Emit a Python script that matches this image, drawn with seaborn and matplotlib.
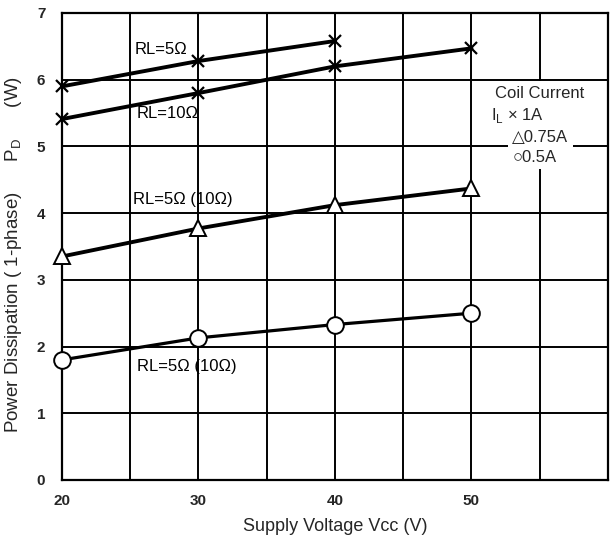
import matplotlib
matplotlib.use("Agg")
import matplotlib.pyplot as plt
import seaborn as sns
import pandas as pd

# Data
vcc_a = [20, 30, 40]
pd_1a_5ohm = [5.9, 6.28, 6.58]
vcc_b = [20, 30, 40, 50]
pd_1a_10ohm = [5.41, 5.8, 6.2, 6.47]
pd_075a = [3.35, 3.77, 4.12, 4.37]
pd_05a = [1.8, 2.13, 2.33, 2.5]

x_ticks = [20, 30, 40, 50]
y_ticks = [0, 1, 2, 3, 4, 5, 6, 7]

sns.set_theme(style="white")
plt.rcParams['font.family'] = ['Liberation Sans', 'DejaVu Sans']
plt.rcParams['mathtext.fontset'] = 'custom'
plt.rcParams['mathtext.rm'] = 'Liberation Sans'

fig = plt.figure(figsize=(6.1, 5.39), dpi=100)
ax = fig.add_axes([0.1016, 0.1095, 0.8951, 0.8664])

# grid
for gx in range(20, 61, 5):
    ax.axvline(gx, color='black', lw=1.4, zorder=1)
for gy in range(0, 8):
    ax.axhline(gy, color='black', lw=1.4, zorder=1)

df1 = pd.DataFrame({'V': vcc_a, 'P': pd_1a_5ohm})
df2 = pd.DataFrame({'V': vcc_b, 'P': pd_1a_10ohm})
df3 = pd.DataFrame({'V': vcc_b, 'P': pd_075a})
df4 = pd.DataFrame({'V': vcc_b, 'P': pd_05a})

common = dict(x='V', y='P', ax=ax, color='black', zorder=3, clip_on=False)
sns.lineplot(data=df1, marker='x', markersize=8, markeredgewidth=1.6,
             markeredgecolor='black', lw=2.8, **common)
sns.lineplot(data=df2, marker='x', markersize=8, markeredgewidth=1.6,
             markeredgecolor='black', lw=2.8, **common)
sns.lineplot(data=df3, marker='^', markersize=12, markerfacecolor='white',
             markeredgecolor='black', markeredgewidth=1.4, lw=2.8, **common)
sns.lineplot(data=df4, marker='o', markersize=12, markerfacecolor='white',
             markeredgecolor='black', markeredgewidth=1.4, lw=2.3, **common)

ax.set_xlim(20, 60)
ax.set_ylim(0, 7)
ax.set_xticks(x_ticks)
ax.set_yticks(y_ticks)
ax.tick_params(axis='both', length=0, labelsize=11)
ax.tick_params(axis='y', pad=12)
ax.tick_params(axis='x', pad=10)
for lab in ax.get_xticklabels() + ax.get_yticklabels():
    lab.set_fontweight('bold')

for s in ax.spines.values():
    s.set_color('black')
    s.set_linewidth(1.6)

ax.set_xlabel('Supply Voltage Vcc (V)', fontsize=13, labelpad=7)
ax.set_ylabel(r'Power Dissipation ( 1-phase)      P$_{\mathregular{D}}$      (W)',
              fontsize=13.5)
ax.yaxis.set_label_coords(-0.07, 0.482)

tk = dict(fontsize=12, color='black', zorder=5)
ax.text(25.3, 6.46, 'RL=5Ω', ha='left', va='center', **tk)
ax.text(25.5, 5.5, 'RL=10Ω', ha='left', va='center', **tk)
ax.text(25.2, 4.2, 'RL=5Ω (10Ω)', ha='left', va='center', **tk)
ax.text(25.5, 1.7, 'RL=5Ω (10Ω)', ha='left', va='center', **tk)

# legend-like text block
wb = dict(facecolor='white', edgecolor='none', pad=3)
lk = dict(ha='left', va='center', fontsize=12, zorder=5, bbox=wb)
ax.text(51.7, 5.8, 'Coil Current', **lk)
ax.text(51.4, 5.47, 'I$_{\\mathregular{L}}$ × 1A', **lk)
ax.text(53.0, 5.14, '△0.75A', **lk)
ax.text(53.0, 4.84, '○0.5A', **lk)

fig.savefig('out.png', dpi=100)
